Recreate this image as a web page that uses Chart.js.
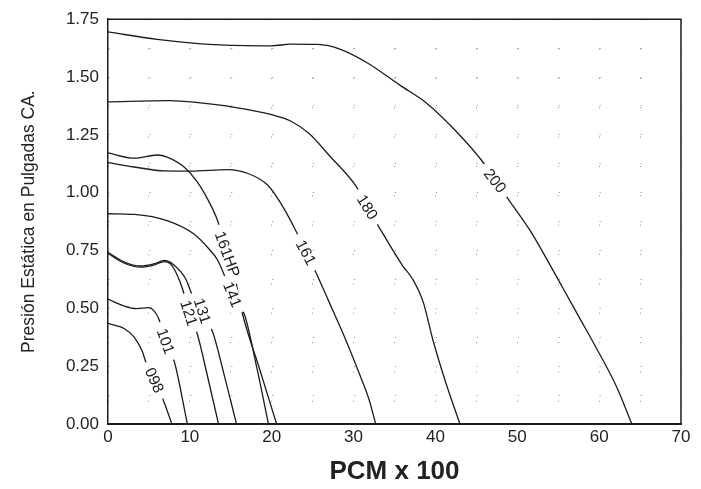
<!DOCTYPE html>
<html>
<head>
<meta charset="utf-8">
<script src="https://cdn.jsdelivr.net/npm/chart.js@4.4.1/dist/chart.umd.min.js"></script>
<style>
html,body{margin:0;padding:0;background:#ffffff;}
#wrap{width:701px;height:489px;}
canvas{display:block;}
</style>
</head>
<body>
<div id="wrap"><canvas id="c" width="701" height="489"></canvas></div>
<script>
// ---- axis ticks ----
const xTickValues = [0, 10, 20, 30, 40, 50, 60, 70];
const yTickValues = [0, 0.25, 0.5, 0.75, 1.0, 1.25, 1.5, 1.75];
const yTickLabels = ['0.00', '0.25', '0.50', '0.75', '1.00', '1.25', '1.50', '1.75'];

// ---- curves (x = PCM x 100, y = static pressure in. w.c.) ----
const curve200X = [0, 6, 13, 20, 22.3, 25.6, 28.4, 31.6, 35.7, 39.0, 42.4, 45.7, 47.3, 49.0, 51.5, 53.6, 55.6, 57.6, 59.6, 62.1, 64.0];
const curve200Y = [1.695, 1.663, 1.640, 1.635, 1.642, 1.641, 1.620, 1.563, 1.464, 1.385, 1.270, 1.137, 1.052, 0.967, 0.840, 0.713, 0.586, 0.459, 0.332, 0.163, 0];

const curve180X = [0, 7.5, 11.3, 15.3, 20.0, 22.3, 24.6, 27.0, 30.3, 31.7, 33.2, 36.0, 37.2, 38.5, 39.7, 41.3, 43.0];
const curve180Y = [1.393, 1.398, 1.388, 1.370, 1.337, 1.310, 1.255, 1.162, 1.028, 0.938, 0.846, 0.684, 0.627, 0.528, 0.362, 0.175, 0];

const curve161X = [0, 3.2, 6.9, 10.1, 14.6, 17.1, 19.5, 21.0, 22.9, 24.2, 25.4, 27.0, 29.1, 30.7, 31.9, 32.7];
const curve161Y = [1.130, 1.111, 1.094, 1.093, 1.100, 1.083, 1.033, 0.960, 0.839, 0.742, 0.655, 0.528, 0.359, 0.218, 0.105, 0];

const curve161HPX = [0, 3.2, 6.0, 7.3, 9.3, 10.9, 12.2, 13.4, 14.6, 15.4, 16.4, 18.5, 20.6];
const curve161HPY = [1.172, 1.149, 1.163, 1.153, 1.111, 1.047, 0.970, 0.878, 0.734, 0.650, 0.480, 0.240, 0];

const curve141X = [0, 3.2, 7.3, 10.5, 12.5, 13.4, 15.2, 16.7, 18.2, 19.6];
const curve141Y = [0.909, 0.906, 0.878, 0.821, 0.750, 0.708, 0.560, 0.470, 0.240, 0];

const curve131X = [0, 2.0, 4.0, 5.6, 6.9, 7.9, 9.5, 10.3, 11.5, 12.8, 14.3, 15.7];
const curve131Y = [0.742, 0.700, 0.683, 0.692, 0.707, 0.692, 0.627, 0.556, 0.489, 0.397, 0.197, 0];

const curve121X = [0, 2.0, 4.0, 5.6, 6.9, 7.7, 8.5, 9.1, 9.9, 10.9, 12.2, 13.5];
const curve121Y = [0.737, 0.695, 0.678, 0.687, 0.702, 0.690, 0.640, 0.585, 0.480, 0.390, 0.200, 0];

const curve101X = [0, 2.0, 3.5, 5.0, 5.6, 6.2, 7.06, 8.1, 9.7];
const curve101Y = [0.540, 0.510, 0.499, 0.503, 0.490, 0.455, 0.358, 0.270, 0];

const curve098X = [0, 2.0, 3.2, 4.2, 4.6, 5.7, 6.9, 7.8];
const curve098Y = [0.435, 0.412, 0.376, 0.313, 0.270, 0.189, 0.090, 0];

// ---- inline curve labels (text, position in data units, rotation in degrees) ----
const curveLabelText = ['200', '180', '161', '161HP', '141', '131', '121', '101', '098'];
const curveLabelX = [47.3, 31.7, 24.2, 14.6, 15.2, 11.55, 9.9, 7.06, 5.7];
const curveLabelY = [1.052, 0.938, 0.742, 0.734, 0.560, 0.489, 0.480, 0.358, 0.189];
const curveLabelAngle = [52, 58, 62, 70, 68, 72, 72, 70, 66];

const FONT = '"Liberation Sans", Arial, Helvetica, sans-serif';
const LINE = '#1c1c1c';

function pts(xs, ys) { return xs.map((x, i) => ({ x: x, y: ys[i] })); }
function ds(label, xs, ys) {
  return {
    label: label,
    data: pts(xs, ys),
    borderColor: LINE,
    borderWidth: 1.3,
    pointRadius: 0,
    fill: false,
    cubicInterpolationMode: 'monotone'
  };
}

const frame = {
  id: 'frame',
  afterDraw(chart) {
    const a = chart.chartArea, ctx = chart.ctx;
    ctx.save();
    ctx.strokeStyle = '#1c1c1c';
    ctx.lineWidth = 1.5;
    ctx.beginPath();
    ctx.moveTo(a.left, a.top);
    ctx.lineTo(a.right, a.top);
    ctx.lineTo(a.right, a.bottom);
    ctx.stroke();
    ctx.restore();
  }
};

const inlineLabels = {
  id: 'inlineLabels',
  afterDatasetsDraw(chart) {
    const ctx = chart.ctx, xs = chart.scales.x, ys = chart.scales.y;
    ctx.save();
    ctx.font = '15.5px ' + FONT;
    ctx.textAlign = 'center';
    ctx.textBaseline = 'middle';
    curveLabelText.forEach((t, i) => {
      const px = xs.getPixelForValue(curveLabelX[i]);
      const py = ys.getPixelForValue(curveLabelY[i]);
      const w = ctx.measureText(t).width;
      ctx.save();
      ctx.translate(px, py);
      ctx.rotate(curveLabelAngle[i] * Math.PI / 180);
      ctx.fillStyle = '#ffffff';
      ctx.fillRect(-w / 2 - 7, -6.5, w + 14, 13);
      ctx.fillStyle = '#1c1c1c';
      ctx.fillText(t, 0, 1);
      ctx.restore();
    });
    ctx.restore();
  }
};

const X_STEPS = 14, Y_STEPS = 14;
const AREA_W = 573, AREA_H = 411;

new Chart(document.getElementById('c'), {
  type: 'line',
  data: {
    datasets: [
      ds('200', curve200X, curve200Y),
      ds('180', curve180X, curve180Y),
      ds('161', curve161X, curve161Y),
      ds('161HP', curve161HPX, curve161HPY),
      ds('141', curve141X, curve141Y),
      ds('131', curve131X, curve131Y),
      ds('121', curve121X, curve121Y),
      ds('101', curve101X, curve101Y),
      ds('098', curve098X, curve098Y)
    ]
  },
  options: {
    responsive: false,
    animation: false,
    devicePixelRatio: 1,
    layout: { padding: { left: 0, top: 13, right: 20, bottom: 0 } },
    plugins: { legend: { display: false }, tooltip: { enabled: false } },
    scales: {
      x: {
        type: 'linear',
        min: 0, max: 70,
        afterFit(s) { s.height = 65; },
        ticks: {
          stepSize: 5,
          autoSkip: false,
          maxRotation: 0,
          padding: 3,
          color: '#222',
          font: { family: FONT, size: 17 },
          callback: v => (xTickValues.includes(v) ? String(v) : '')
        },
        grid: { color: '#8a8a8a', lineWidth: 1, drawTicks: false },
        border: { display: true, color: '#1c1c1c', width: 2, dash: [1, AREA_H / Y_STEPS - 1] },
        title: {
          display: true,
          text: 'PCM x 100',
          color: '#222',
          font: { family: FONT, size: 26, weight: 'bold' },
          padding: { top: 0, bottom: 2 }
        }
      },
      y: {
        type: 'linear',
        min: 0, max: 1.75,
        afterFit(s) { s.width = 108; },
        ticks: {
          stepSize: 0.125,
          autoSkip: false,
          padding: 9,
          color: '#222',
          font: { family: FONT, size: 17 },
          callback: v => {
            const i = yTickValues.findIndex(t => Math.abs(t - v) < 1e-6);
            return i >= 0 ? yTickLabels[i] : '';
          }
        },
        grid: { color: '#8a8a8a', lineWidth: 1, drawTicks: false },
        border: { display: true, color: '#1c1c1c', width: 1.5, dash: [1, AREA_W / X_STEPS - 1] },
        title: {
          display: true,
          text: 'Presión Estática en Pulgadas CA.',
          color: '#222',
          font: { family: FONT, size: 17.5 },
          padding: { top: 19, bottom: 0 }
        }
      }
    }
  },
  plugins: [frame, inlineLabels]
});
</script>
</body>
</html>
